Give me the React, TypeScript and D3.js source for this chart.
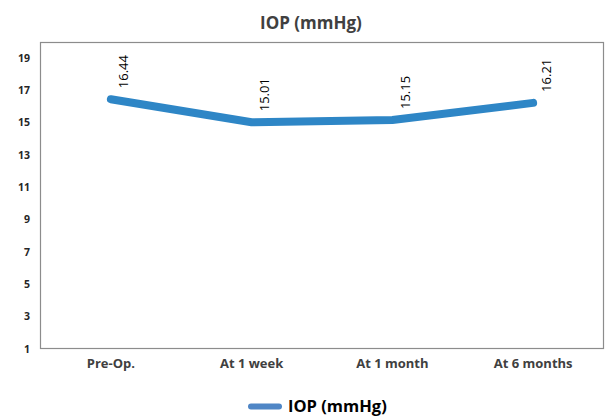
import React from "react";
import * as d3 from "d3";

const categories = ["Pre-Op.", "At 1 week", "At 1 month", "At 6 months"];
const iopValues = [16.44, 15.01, 15.15, 16.21];
const yTicks = [1, 3, 5, 7, 9, 11, 13, 15, 17, 19];
const seriesName = "IOP (mmHg)";
const chartTitle = "IOP (mmHg)";

const W = 609;
const H = 416;
const M = { left: 40.5, right: 603.5, top: 42.5, bottom: 348.5 };
const FONT = "'Open Sans', sans-serif";

export default function App() {
  const x = d3.scaleBand<string>().domain(categories).range([M.left, M.right]);
  const y = d3.scaleLinear().domain([1, 19.95]).range([M.bottom, M.top]);
  const cx = (c: string) => (x(c) ?? 0) + x.bandwidth() / 2;
  const line = d3
    .line<number>()
    .x((_, i) => cx(categories[i]))
    .y((d) => y(d));

  return (
    <svg width={W} height={H} style={{ position: "absolute", left: 0, top: 0 }} fontFamily={FONT}>
      <rect width={W} height={H} fill="#fff" />
      <text x={311} y={29} textAnchor="middle" fontSize={17} fontWeight="bold" fill="#404040">
        {chartTitle}
      </text>
      <rect
        x={M.left}
        y={M.top}
        width={M.right - M.left}
        height={M.bottom - M.top}
        fill="none"
        stroke="#8c8c8c"
        strokeWidth={1.2}
      />
      {yTicks.map((t) => (
        <text key={t} x={30} y={y(t) + 4} textAnchor="end" fontSize={10.5} fontWeight="bold" fill="#262626">
          {t}
        </text>
      ))}
      {categories.map((c) => (
        <text key={c} x={cx(c)} y={368} textAnchor="middle" fontSize={13} fontWeight="bold" fill="#404040">
          {c}
        </text>
      ))}
      <path
        d={line(iopValues) ?? ""}
        fill="none"
        stroke="#2E86C6"
        strokeWidth={8}
        strokeLinecap="round"
        strokeLinejoin="round"
      />
      {iopValues.map((v, i) => {
        const px = cx(categories[i]) + 13;
        const py = y(v) - 11;
        return (
          <text
            key={i}
            transform={`translate(${px},${py}) rotate(-90)`}
            x={0}
            y={4.5}
            fontSize={13}
            fill="#000"
          >
            {v.toFixed(2)}
          </text>
        );
      })}
      <line x1={251} x2={279} y1={406.5} y2={406.5} stroke="#4F86C6" strokeWidth={6} strokeLinecap="round" />
      <text x={288} y={412} fontSize={16.5} fontWeight="bold" fill="#000">
        {seriesName}
      </text>
    </svg>
  );
}
